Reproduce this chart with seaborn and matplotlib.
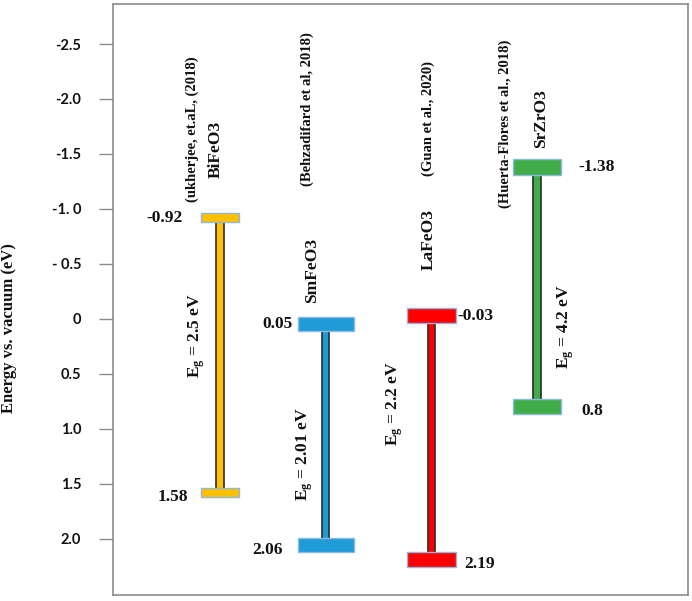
import matplotlib
matplotlib.use("Agg")
import matplotlib.pyplot as plt
import seaborn as sns
import pandas as pd
import numpy as np

# ---------------- data ----------------
materials = ["BiFeO3", "SmFeO3", "LaFeO3", "SrZrO3"]
cb_values = [-0.92, 0.05, -0.03, -1.38]      # conduction band edge (eV)
vb_values = [1.58, 2.06, 2.19, 0.8]          # valence band edge (eV)
cb_labels = ["-0.92", "0.05", "-0.03", "-1.38"]
vb_labels = ["1.58", "2.06", "2.19", "0.8"]
band_gaps = ["2.5", "2.01", "2.2", "4.2"]
references = ["(ukherjee, et.aL, (2018)", "(Behzadifard et al, 2018)",
              "(Guan et al., 2020)", "(Huerta-Flores et al., 2018)"]
y_ticks = [-2.5, -2.0, -1.5, -1.0, -0.5, 0, 0.5, 1.0, 1.5, 2.0]
y_tick_labels = ["-2.5", "-2.0", "-1.5", "-1. 0", "- 0.5", "0", "0.5", "1.0", "1.5", "2.0"]

# ---------------- style ----------------
colors = ["#FFC000", "#1F9BD7", "#FF0000", "#41AD49"]
cap_widths = [0.36, 0.53, 0.47, 0.45]
cap_h_top = np.array([0.085, 0.13, 0.14, 0.14])
cap_h_bot = np.array([0.075, 0.13, 0.14, 0.14])
stem_width = 0.068

sns.set_theme(style="white")
plt.rcParams["font.family"] = ["Liberation Serif", "DejaVu Serif"]
plt.rcParams["mathtext.fontset"] = "custom"
plt.rcParams["mathtext.rm"] = "Liberation Serif:bold"
plt.rcParams["mathtext.it"] = "Liberation Serif:italic:bold"
plt.rcParams["mathtext.bf"] = "Liberation Serif:bold"

cb = np.array(cb_values)
vb = np.array(vb_values)
df = pd.DataFrame({"material": materials, "span": vb - cb, "cb": cb})

fig = plt.figure(figsize=(6.92, 6.01), dpi=100)
ax = fig.add_axes([113 / 692, 6 / 601, (688 - 113) / 692, (596 - 5) / 601])

# stems (band gap bars)
sns.barplot(data=df, x="material", y="span", bottom=df["cb"].values,
            width=stem_width, color="gray", edgecolor="#2b2b2b", linewidth=1.2,
            errorbar=None, ax=ax, zorder=2)
for patch, c in zip(ax.patches, colors):
    patch.set_facecolor(c)

xpos = np.arange(len(materials))
# band edge caps
ax.bar(xpos, cap_h_top, width=cap_widths, bottom=cb - cap_h_top / 2,
       color=colors, edgecolor="#8DB8E0", linewidth=1.0, zorder=3)
ax.bar(xpos, cap_h_bot, width=cap_widths, bottom=vb - cap_h_bot / 2,
       color=colors, edgecolor="#8DB8E0", linewidth=1.0, zorder=3)

ax.set_xlim(-1.012, 4.428)
ax.set_ylim(2.512, -2.864)
ax.set_xticks([])
ax.set_xlabel("")
ax.set_yticks(y_ticks)
ax.set_yticklabels(y_tick_labels, fontfamily="Lato", fontweight="bold", fontsize=10.5)
ax.tick_params(axis="y", left=True, length=10, width=1.0, color="#8C8C8C",
               pad=13, direction="out", labelcolor="#111111")
for s in ax.spines.values():
    s.set_color("#8C8C8C")
    s.set_linewidth(1.2)

ax.set_ylabel("Energy vs. vacuum (eV)", fontsize=12, fontweight="bold", color="#111111")
ax.yaxis.set_label_coords(-0.167, 0.452)

txt = dict(fontweight="bold", color="#111111")

# references (rotated)
ref_pos = [(-0.265, -1.726), (0.823, -1.912), (1.968, -1.822), (2.696, -1.771)]
for (x, y), r in zip(ref_pos, references):
    ax.text(x, y, r, rotation=90, ha="center", va="center", fontsize=10.5, **txt)

# material names
name_pos = [(-0.038, -1.543), (0.870, -0.437), (1.977, -0.720), (3.037, -1.822)]
for (x, y), m in zip(name_pos, materials):
    ax.text(x, y, m, rotation=90, ha="center", va="center", fontsize=12.5, **txt)

# band gap labels
eg_pos = [(-0.218, 0.148), (0.804, 1.227), (1.656, 0.770), (3.273, 0.066)]
for (x, y), g in zip(eg_pos, band_gaps):
    ax.text(x, y, r"E$_\mathrm{g}$ = " + g + " eV", rotation=90, ha="center",
            va="center", fontsize=12.5, **txt)

# band edge values
cb_lab_x = [(-0.35, "right"), (0.69, "right"), (2.25, "left"), (3.387, "left")]
vb_lab_x = [(-0.303, "right"), (0.596, "right"), (2.31, "left"), (3.415, "left")]
for (x, ha), v, lab in zip(cb_lab_x, cb_values, cb_labels):
    ax.text(x, v, lab, ha=ha, va="center", fontsize=12.5, **txt)
for (x, ha), v, lab in zip(vb_lab_x, vb_values, vb_labels):
    ax.text(x, v + 0.04, lab, ha=ha, va="center", fontsize=12.5, **txt)

fig.savefig("out.png", dpi=100, facecolor="white")
